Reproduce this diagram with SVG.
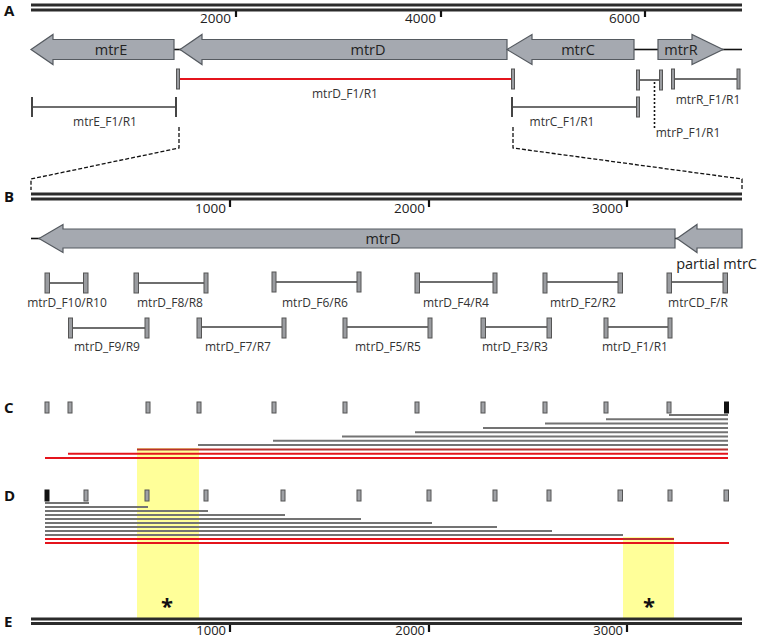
<svg xmlns="http://www.w3.org/2000/svg" width="760" height="638" viewBox="0 0 760 638">
<style>
text{font-family:"Open Sans","DejaVu Sans",sans-serif;fill:#222}
.pl{font-size:15px;font-weight:bold;fill:#111}
.num{font-size:13.5px}
.gl{font-size:14.5px;text-anchor:middle}
.lb{font-size:12px;text-anchor:middle;fill:#333}
.rul{fill:#2b2b2b}
.tick{stroke:#111;stroke-width:2.2}
.gene{fill:#a5a9b0;stroke:#555a60;stroke-width:1.2}
.bb{stroke:#111;stroke-width:1.6}
.bar{fill:#9a9ca0;stroke:#555;stroke-width:1}
.pline{stroke:#6e6e6e;stroke-width:2}
.dk{stroke:#444;stroke-width:2}
.red{stroke:#e4141c;stroke-width:2}
.dred{stroke:#b8312f;stroke-width:2}
.gr{stroke:#737373;stroke-width:2}
.mk{fill:#a0a2a6;stroke:#555;stroke-width:1}
.mkb{fill:#111}
.hl{fill:#ffff99}
.zoom{fill:none;stroke:#111;stroke-width:1.3;stroke-dasharray:4 2}
.ast{font-size:22px;font-weight:bold;text-anchor:middle;fill:#111}
</style>

<!-- highlights -->
<rect class="hl" x="137" y="448" width="62" height="170"/>
<rect class="hl" x="623" y="537" width="51" height="81"/>

<!-- Panel labels -->
<text class="pl" x="4" y="16">A</text>
<text class="pl" x="4" y="202">B</text>
<text class="pl" x="4" y="413">C</text>
<text class="pl" x="4" y="501">D</text>
<text class="pl" x="4" y="627">E</text>

<!-- Ruler A -->
<g id="rulerA">
<rect class="rul" x="31" y="3.5" width="711" height="3"/>
<rect class="rul" x="31" y="8.5" width="711" height="3"/>
<line class="tick" x1="236" y1="11" x2="236" y2="17"/>
<line class="tick" x1="441" y1="11" x2="441" y2="17"/>
<line class="tick" x1="645" y1="11" x2="645" y2="17"/>
<text class="num" x="231" y="23" text-anchor="end">2000</text>
<text class="num" x="436" y="23" text-anchor="end">4000</text>
<text class="num" x="640" y="23" text-anchor="end">6000</text>
</g>

<!-- Genes A -->
<g id="backboneA">
<line class="bb" x1="174" y1="49.5" x2="181" y2="49.5"/>
<line class="bb" x1="634" y1="49.5" x2="659" y2="49.5"/>
<line class="bb" x1="722" y1="49.5" x2="742" y2="49.5"/>
</g>
<g id="mtrE">
<polygon class="gene" points="31,49.5 53,34.5 53,39.5 174,39.5 174,59.5 53,59.5 53,64.5"/>
<text class="gl" x="111" y="54.5">mtrE</text>
</g>
<g id="mtrD">
<polygon class="gene" points="180,49.5 202,34.5 202,39.5 507,39.5 507,59.5 202,59.5 202,64.5"/>
<text class="gl" x="368" y="54.5">mtrD</text>
</g>
<g id="mtrC">
<polygon class="gene" points="507,49.5 532,34.5 532,39.5 634,39.5 634,59.5 532,59.5 532,64.5"/>
<text class="gl" x="578" y="54.5">mtrC</text>
</g>
<g id="mtrR">
<polygon class="gene" points="723,49.5 692,34.5 692,39.5 658,39.5 658,59.5 692,59.5 692,64.5"/>
<text class="gl" x="681" y="54.5">mtrR</text>
</g>

<!-- Primers A -->
<g id="mtrD_F1R1_A">
<line class="red" x1="180" y1="79" x2="512" y2="79"/>
<rect class="bar" x="176.5" y="69" width="3" height="20"/>
<rect class="bar" x="511.5" y="69" width="3" height="20"/>
<text class="lb" x="345" y="98">mtrD_F1/R1</text>
</g>
<g id="mtrE_F1R1">
<line class="pline" x1="32" y1="107" x2="176" y2="107"/>
<line class="dk" x1="32" y1="97" x2="32" y2="117"/>
<line class="dk" x1="176" y1="97" x2="176" y2="117"/>
<text class="lb" x="105" y="126">mtrE_F1/R1</text>
</g>
<g id="mtrC_F1R1">
<line class="pline" x1="512" y1="107" x2="638" y2="107"/>
<line class="dk" x1="512" y1="97" x2="512" y2="117"/>
<rect class="bar" x="636.5" y="97" width="3" height="20"/>
<text class="lb" x="562" y="126">mtrC_F1/R1</text>
</g>
<g id="mtrP_F1R1">
<line class="pline" x1="639" y1="80" x2="660" y2="80"/>
<rect class="bar" x="636.5" y="70" width="3" height="20"/>
<rect class="bar" x="659.5" y="70" width="3" height="20"/>
<line x1="654.5" y1="82" x2="654.5" y2="130" stroke="#111" stroke-width="1.6" stroke-dasharray="2 2"/>
<text class="lb" x="688" y="137">mtrP_F1/R1</text>
</g>
<g id="mtrR_F1R1">
<line class="pline" x1="674" y1="79" x2="738" y2="79"/>
<rect class="bar" x="671.5" y="69" width="3" height="20"/>
<rect class="bar" x="737" y="69" width="3" height="20"/>
<text class="lb" x="708" y="104">mtrR_F1/R1</text>
</g>

<!-- Zoom lines -->
<g id="connectors">
<path class="zoom" d="M179,127 L179,148 L31,179 L31,190"/>
<path class="zoom" d="M513,127 L513,148 L742,179 L742,190"/>
</g>

<!-- Ruler B -->
<g id="rulerB">
<rect class="rul" x="31" y="192.5" width="711" height="3"/>
<rect class="rul" x="31" y="197.5" width="711" height="3"/>
<line class="tick" x1="230" y1="200" x2="230" y2="207"/>
<line class="tick" x1="429" y1="200" x2="429" y2="207"/>
<line class="tick" x1="627" y1="200" x2="627" y2="207"/>
<text class="num" x="226" y="213" text-anchor="end">1000</text>
<text class="num" x="425" y="213" text-anchor="end">2000</text>
<text class="num" x="623" y="213" text-anchor="end">3000</text>
</g>

<g id="mtrD_B">
<line class="bb" x1="31" y1="238.5" x2="40" y2="238.5"/>
<line class="bb" x1="674" y1="238.5" x2="678" y2="238.5"/>
<polygon class="gene" points="39,238.5 63,224.5 63,229 675,229 675,248 63,248 63,252.5"/>
<text class="gl" x="383" y="243.5">mtrD</text>
</g>
<g id="partial_mtrC">
<polygon class="gene" points="677,238.5 697,224.5 697,229 742,229 742,248 697,248 697,252.5"/>
<text x="757" y="269" text-anchor="end" style="font-size:14.5px">partial mtrC</text>
</g>

<!-- Primers B row 1 -->
<g id="F10R10"><line class="pline" x1="47" y1="283" x2="86" y2="283"/><rect class="bar" x="45" y="273" width="4.5" height="20"/><rect class="bar" x="83.5" y="273" width="4.5" height="20"/><text class="lb" x="67" y="307">mtrD_F10/R10</text></g>
<g id="F8R8"><line class="pline" x1="136" y1="283" x2="206" y2="283"/><rect class="bar" x="134" y="273" width="4.5" height="20"/><rect class="bar" x="204" y="273" width="4" height="20"/><text class="lb" x="170" y="307">mtrD_F8/R8</text></g>
<g id="F6R6"><line class="pline" x1="274" y1="282" x2="359" y2="282"/><rect class="bar" x="272" y="272" width="4" height="20"/><rect class="bar" x="357" y="272" width="4" height="20"/><text class="lb" x="315" y="307">mtrD_F6/R6</text></g>
<g id="F4R4"><line class="pline" x1="417" y1="282" x2="495" y2="282"/><rect class="bar" x="415" y="273" width="4.5" height="20"/><rect class="bar" x="493" y="273" width="4" height="20"/><text class="lb" x="456" y="307">mtrD_F4/R4</text></g>
<g id="F2R2"><line class="pline" x1="545" y1="282" x2="620" y2="282"/><rect class="bar" x="543" y="273" width="4" height="20"/><rect class="bar" x="618" y="273" width="4.5" height="20"/><text class="lb" x="583" y="307">mtrD_F2/R2</text></g>
<g id="CDFR"><line class="pline" x1="669" y1="282" x2="725" y2="282"/><rect class="bar" x="667" y="273" width="4.5" height="20"/><rect class="bar" x="723" y="273" width="4.5" height="20"/><text class="lb" x="698" y="307">mtrCD_F/R</text></g>

<!-- Primers B row 2 -->
<g id="F9R9"><line class="pline" x1="70" y1="328" x2="147" y2="328"/><rect class="bar" x="68.5" y="318" width="4" height="20"/><rect class="bar" x="145" y="318" width="4" height="20"/><text class="lb" x="107" y="351">mtrD_F9/R9</text></g>
<g id="F7R7"><line class="pline" x1="199" y1="327" x2="284" y2="327"/><rect class="bar" x="197" y="318" width="4.5" height="20"/><rect class="bar" x="282" y="318" width="4" height="20"/><text class="lb" x="238" y="351">mtrD_F7/R7</text></g>
<g id="F5R5"><line class="pline" x1="345" y1="327" x2="430" y2="327"/><rect class="bar" x="343" y="318" width="4" height="20"/><rect class="bar" x="428" y="318" width="4" height="20"/><text class="lb" x="388" y="351">mtrD_F5/R5</text></g>
<g id="F3R3"><line class="pline" x1="483" y1="327" x2="549" y2="327"/><rect class="bar" x="481" y="318" width="4.5" height="20"/><rect class="bar" x="547" y="318" width="4.5" height="20"/><text class="lb" x="515" y="351">mtrD_F3/R3</text></g>
<g id="F1R1"><line class="pline" x1="606" y1="327" x2="670" y2="327"/><rect class="bar" x="604" y="318" width="4" height="20"/><rect class="bar" x="668" y="318" width="4" height="20"/><text class="lb" x="635" y="351">mtrD_F1/R1</text></g>

<!-- Panel C -->
<g id="markersC">
<rect class="mk" x="45" y="402" width="4" height="11"/>
<rect class="mk" x="68" y="402" width="4" height="11"/>
<rect class="mk" x="146" y="402" width="4" height="11"/>
<rect class="mk" x="197" y="402" width="4" height="11"/>
<rect class="mk" x="272" y="402" width="4" height="11"/>
<rect class="mk" x="343" y="402" width="4" height="11"/>
<rect class="mk" x="415" y="402" width="4" height="11"/>
<rect class="mk" x="481" y="402" width="4" height="11"/>
<rect class="mk" x="543" y="402" width="4" height="11"/>
<rect class="mk" x="604" y="402" width="4" height="11"/>
<rect class="mk" x="667" y="402" width="4" height="11"/>
<rect class="mkb" x="724" y="401.5" width="5" height="12"/>
</g>
<g id="readsC">
<line class="gr" x1="669" y1="415" x2="728" y2="415"/>
<line class="gr" x1="606" y1="419.3" x2="728" y2="419.3"/>
<line class="gr" x1="545" y1="423.6" x2="728" y2="423.6"/>
<line class="gr" x1="483" y1="427.9" x2="728" y2="427.9"/>
<line class="gr" x1="415" y1="432.2" x2="728" y2="432.2"/>
<line class="gr" x1="342" y1="436.5" x2="728" y2="436.5"/>
<line class="gr" x1="273" y1="440.8" x2="728" y2="440.8"/>
<line class="gr" x1="198" y1="445.1" x2="728" y2="445.1"/>
<line class="dred" x1="137" y1="449.4" x2="728" y2="449.4"/>
<line class="red" x1="68" y1="453.7" x2="728" y2="453.7"/>
<line class="red" x1="45" y1="458" x2="728" y2="458"/>
</g>

<!-- Panel D -->
<g id="markersD">
<rect class="mkb" x="44.5" y="489.5" width="5" height="12"/>
<rect class="mk" x="84" y="490" width="4" height="11"/>
<rect class="mk" x="145" y="490" width="4" height="11"/>
<rect class="mk" x="204" y="490" width="4" height="11"/>
<rect class="mk" x="281" y="490" width="4" height="11"/>
<rect class="mk" x="357" y="490" width="4" height="11"/>
<rect class="mk" x="427" y="490" width="4" height="11"/>
<rect class="mk" x="493" y="490" width="4" height="11"/>
<rect class="mk" x="547" y="490" width="4" height="11"/>
<rect class="mk" x="618" y="490" width="4.5" height="11"/>
<rect class="mk" x="668" y="490" width="4" height="11"/>
<rect class="mk" x="724" y="490" width="4.5" height="11"/>
</g>
<g id="readsD">
<line class="gr" x1="45" y1="503" x2="89" y2="503"/>
<line class="gr" x1="45" y1="507" x2="148" y2="507"/>
<line class="gr" x1="45" y1="511" x2="208" y2="511"/>
<line class="gr" x1="45" y1="515" x2="285" y2="515"/>
<line class="gr" x1="45" y1="519" x2="361" y2="519"/>
<line class="gr" x1="45" y1="523" x2="432" y2="523"/>
<line class="gr" x1="45" y1="527" x2="497" y2="527"/>
<line class="gr" x1="45" y1="531" x2="552" y2="531"/>
<line class="gr" x1="45" y1="535" x2="623" y2="535"/>
<line class="red" x1="45" y1="539" x2="674" y2="539"/>
<line class="red" x1="45" y1="543" x2="729" y2="543"/>
<line class="dred" x1="623" y1="539" x2="674" y2="539"/>
</g>

<text class="ast" x="167" y="614">*</text>
<text class="ast" x="649" y="614">*</text>

<!-- Ruler E -->
<g id="rulerE">
<rect class="rul" x="31" y="617.5" width="711" height="3"/>
<rect class="rul" x="31" y="622" width="711" height="3"/>
<line class="tick" x1="230" y1="625" x2="230" y2="632"/>
<line class="tick" x1="429" y1="625" x2="429" y2="632"/>
<line class="tick" x1="627" y1="625" x2="627" y2="632"/>
<text class="num" x="226" y="635" text-anchor="end" style="font-size:13px">1000</text>
<text class="num" x="425" y="635" text-anchor="end" style="font-size:13px">2000</text>
<text class="num" x="623" y="635" text-anchor="end" style="font-size:13px">3000</text>
</g>
</svg>
